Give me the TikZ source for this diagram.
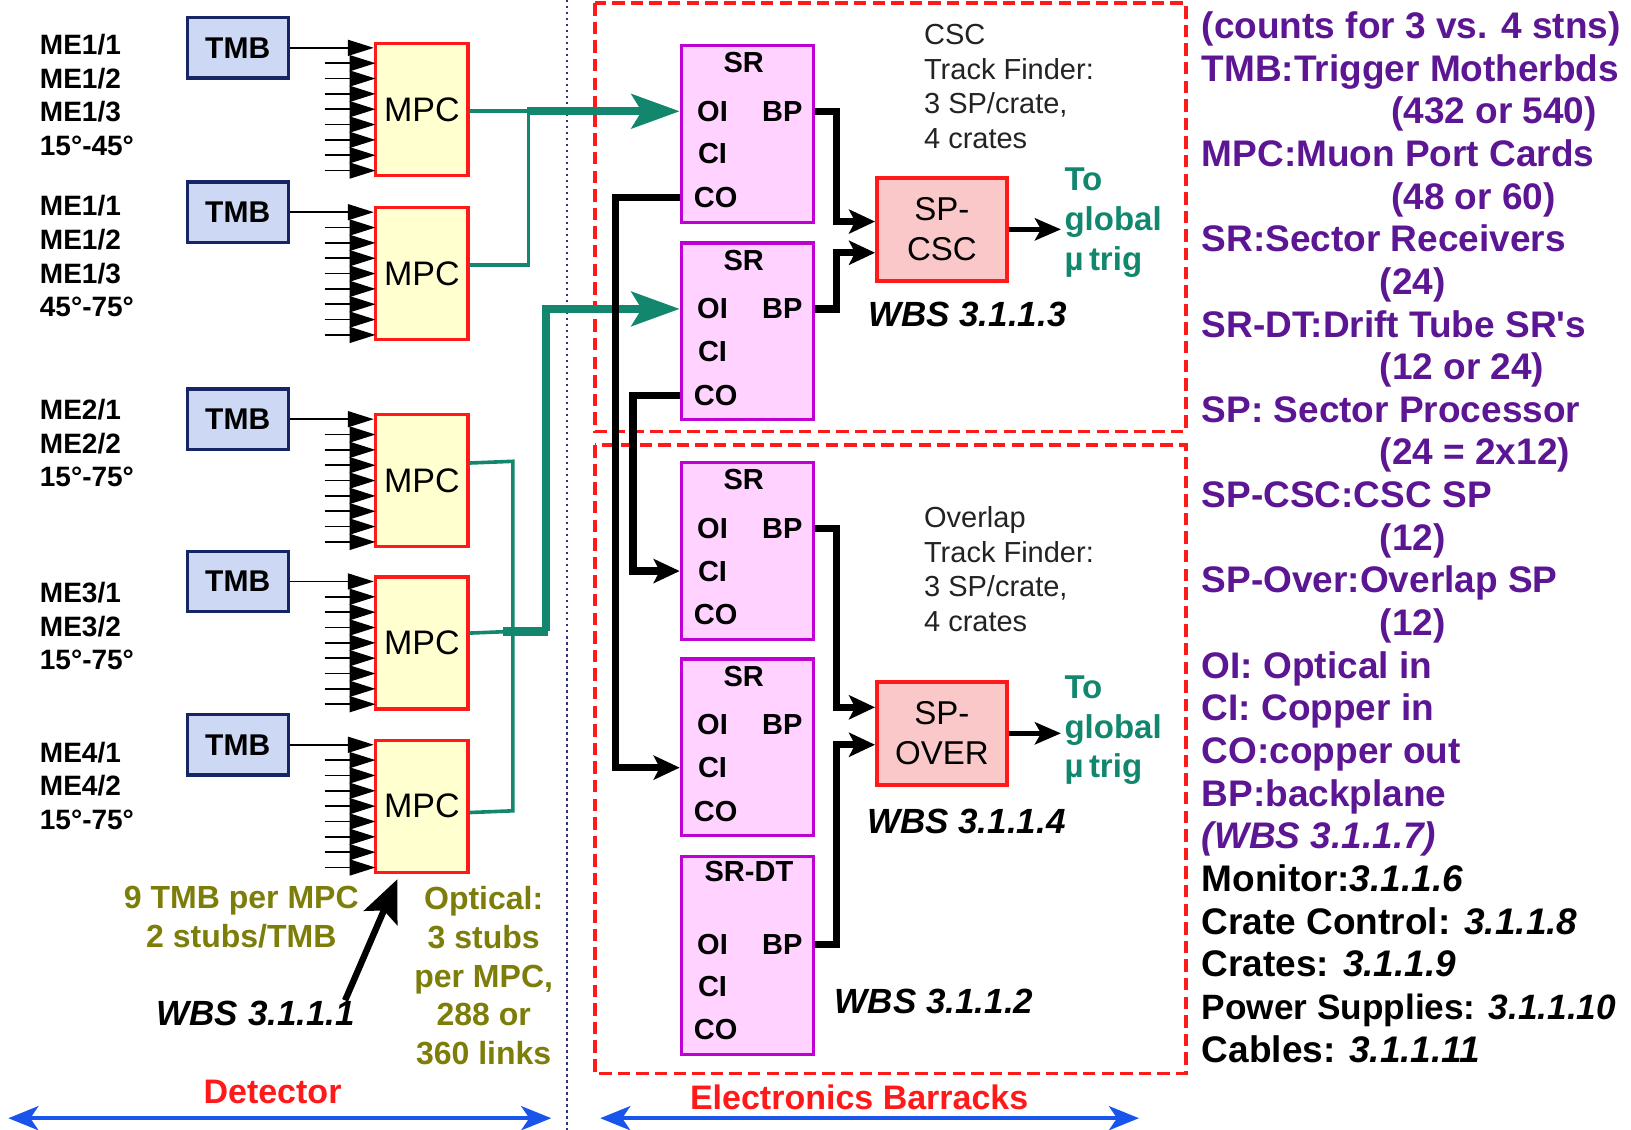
\documentclass[tikz,border=0pt]{standalone}
\usepackage{fontspec}
\setmainfont{Liberation Sans}
\usetikzlibrary{arrows.meta}
\newdimen\pxu \pxu=0.52pt
\definecolor{tmbfill}{RGB}{205,216,245}
\definecolor{tmbdraw}{RGB}{22,38,100}
\definecolor{mpcfill}{RGB}{255,255,208}
\definecolor{boxred}{RGB}{255,25,25}
\definecolor{srfill}{RGB}{255,210,255}
\definecolor{srdraw}{RGB}{190,0,210}
\definecolor{spfill}{RGB}{250,200,200}
\definecolor{tealg}{RGB}{18,135,110}
\definecolor{oliveg}{RGB}{125,125,10}
\definecolor{legpurple}{RGB}{92,22,148}
\definecolor{arrblue}{RGB}{25,85,235}
\definecolor{dotnavy}{RGB}{50,50,130}
\definecolor{txtdark}{RGB}{35,35,35}
\begin{document}
\begin{tikzpicture}[x=0.52pt,y=-0.52pt,
  tmb/.style={draw=tmbdraw, fill=tmbfill, line width=1.6pt, minimum width=97\pxu, minimum height=58\pxu, inner sep=0pt, font=\fontsize{15}{15}\selectfont\bfseries},
  mpc/.style={draw=boxred, fill=mpcfill, line width=1.7pt, minimum width=89\pxu, minimum height=127\pxu, inner sep=0pt, font=\fontsize{17}{17}\selectfont},
  srbox/.style={draw=srdraw, fill=srfill, line width=1.6pt, minimum width=127\pxu, inner sep=0pt},
  port/.style={inner sep=0pt, font=\fontsize{14.5}{14.5}\selectfont\bfseries},
  spbox/.style={draw=boxred, fill=spfill, line width=1.8pt, minimum width=125\pxu, minimum height=99\pxu, inner sep=0pt, align=center, font=\fontsize{16.5}{19.8}\selectfont},
  melbl/.style={anchor=west, inner sep=0pt, align=left, font=\fontsize{14}{16.8}\selectfont\bfseries},
  finder/.style={anchor=west, inner sep=0pt, align=left, text=txtdark, font=\fontsize{14.5}{17.3}\selectfont},
  toglob/.style={anchor=west, inner sep=0pt, align=left, text=tealg, font=\fontsize{16.5}{19.8}\selectfont\bfseries},
  wbs/.style={inner sep=0pt, font=\fontsize{17.5}{17.5}\selectfont\bfseries\itshape},
  olivetxt/.style={inner sep=0pt, align=center, text=oliveg, font=\fontsize{16}{19.4}\selectfont\bfseries},
  region/.style={inner sep=0pt, text=boxred, font=\fontsize{17}{17}\selectfont\bfseries},
  leg/.style={anchor=base west, inner sep=0pt, text=legpurple, font=\fontsize{18.5}{18.5}\selectfont\bfseries},
  legk/.style={anchor=base west, inner sep=0pt, text=black, font=\fontsize{18.5}{18.5}\selectfont\bfseries},
  tarr/.style={line width=0.8pt, -{Triangle[length=13pt,width=8pt]}},
  blk/.style={line width=3.6pt, -{Stealth[length=13pt,width=12pt,inset=3pt]}},
  blkout/.style={line width=2.5pt, -{Stealth[length=13pt,width=11pt,inset=3pt]}},
  gthin/.style={draw=tealg, line width=1.8pt},
  gthick/.style={draw=tealg, line width=4.2pt},
  garr/.style={draw=tealg, line width=4.2pt, -{Stealth[length=24pt,width=17pt,inset=5pt]}},
  bigarr/.style={line width=3.2pt, -{Stealth[length=21pt,width=18pt,inset=4pt]}},
  bluearr/.style={draw=arrblue, line width=2.1pt, {Stealth[length=15pt,width=12pt,inset=4pt]}-{Stealth[length=15pt,width=12pt,inset=4pt]}},
  dashbox/.style={draw=boxred, line width=1.8pt, dash pattern=on 6.2pt off 3.1pt},
  dotline/.style={draw=dotnavy, line width=1.2pt, dash pattern=on 1.2pt off 1.8pt}
]
\fill[white] (0,0) rectangle (1568,1086);
\useasboundingbox (0,0) rectangle (1568,1086);

% regions
\draw[dashbox] (572,3) rectangle (1140,415);
\draw[dashbox] (572,428) rectangle (1140,1032);
\draw[dotline] (545,0) -- (545,1086);

% left labels
\node[melbl] (lab1) at (38,91.5) {ME1/1\\ME1/2\\ME1/3\\15°-45°};
\node[melbl] (lab2) at (38,246.5) {ME1/1\\ME1/2\\ME1/3\\45°-75°};
\node[melbl] (lab3) at (38,426) {ME2/1\\ME2/2\\15°-75°};
\node[melbl] (lab4) at (38,602) {ME3/1\\ME3/2\\15°-75°};
\node[melbl] (lab5) at (38,755.5) {ME4/1\\ME4/2\\15°-75°};

% TMB and MPC
\foreach \m/\tp in {1/40,2/198,3/397,4/553,5/710}{
  \node[tmb] (tmb\m) at (228.5,{\tp+6}) {TMB};
  \node[mpc, anchor=north] (mpc\m) at (405.5,\tp) {MPC};
  \draw[tarr] (tmb\m.east) -- (mpc\m.west |- tmb\m.east);
  \foreach \k in {1,...,8}{
    \draw[tarr] (312,{\tp+6+\k*14.75}) -- ++(49,0);
  }
}

% SR boxes
\foreach \n/\t in {1/42,2/232,3/443,4/632}{
  \node[srbox, minimum height=170\pxu, anchor=north] (sr\n) at (718.5,\t) {};
  \node[port] (sr\n-t) at (715,{\t+18}) {SR};
  \node[port] (sr\n-oi) at (685,{\t+65}) {OI};
  \node[port] (sr\n-bp) at (752,{\t+65}) {BP};
  \node[port] (sr\n-ci) at (685,{\t+106}) {CI};
  \node[port] (sr\n-co) at (688,{\t+148}) {CO};
}
\node[srbox, minimum height=190\pxu, anchor=north] (srdt) at (718.5,822) {};
\node[port] (srdt-t) at (720,838) {SR-DT};
\node[port] (srdt-oi) at (685,908) {OI};
\node[port] (srdt-bp) at (752,908) {BP};
\node[port] (srdt-ci) at (685,948) {CI};
\node[port] (srdt-co) at (688,990) {CO};

% SP boxes
\node[spbox] (spcsc) at (905.5,220.5) {SP-\\CSC};
\node[spbox] (spover) at (905.5,705) {SP-\\OVER};

% texts
\node[finder] (csctf) at (888,83) {CSC\\Track Finder:\\3 SP/crate,\\4 crates};
\node[finder] (ovltf) at (888,547) {Overlap\\Track Finder:\\3 SP/crate,\\4 crates};
\node[toglob] (toglob1) at (1023,214) {To\\global\\µ\,trig};
\node[toglob] (toglob2) at (1023,702) {To\\global\\µ\,trig};
\node[wbs] (wbs3) at (930,302) {WBS 3.1.1.3};
\node[wbs] (wbs4) at (929,790) {WBS 3.1.1.4};
\node[wbs] (wbs2) at (898,963) {WBS 3.1.1.2};
\node[wbs] (wbs1) at (246,974) {WBS 3.1.1.1};
\node[olivetxt] (tmbper) at (232,881.5) {9 TMB per MPC\\2 stubs/TMB};
\node[olivetxt] (optical) at (465,938) {Optical:\\3 stubs\\per MPC,\\288 or\\360 links};
\node[region] (det) at (262,1050) {Detector};
\node[region] (eb) at (826,1055) {Electronics Barracks};

% blue extent arrows
\coordinate (detl) at (8,1075);
\coordinate (detr) at (530,1075);
\coordinate (ebl) at (577,1075);
\coordinate (ebr) at (1095,1075);
\draw[bluearr] (detl) -- (detr);
\draw[bluearr] (ebl) -- (ebr);

% green optical links
\coordinate (j1) at (508,107);
\draw[gthin] (mpc1.east |- j1) -- (j1);
\draw[gthin] ([yshift=8.5\pxu]mpc2.east) -| (j1);
\draw[garr] ([xshift=-1\pxu]j1) -- (sr1.west |- sr1-oi);
\coordinate (j3top) at (493,443.5);
\coordinate (j3bot) at (493,779.5);
\coordinate (j2) at (493,607);
\draw[gthin] ([yshift=17\pxu]mpc3.east) -- (j3top) -- (j3bot) -- ([yshift=-6\pxu]mpc5.east);
\draw[gthin] ([yshift=9.5\pxu]mpc4.east) -- (j2);
\draw[gthick] ([xshift=-9\pxu]j2) -- ++(43,0);
\draw[garr] ([xshift=32\pxu]j2) |- (sr2.west |- sr2-oi);

% black copper / backplane links
\draw[blk] (sr1.east |- sr1-bp) -- ++(21,0) |- ([yshift=7.5\pxu]spcsc.west);
\draw[blk] (sr2.east |- sr2-bp) -- ++(21,0) |- ([yshift=-22.5\pxu]spcsc.west);
\draw[blk] (sr3.east |- sr3-bp) -- ++(21,0) |- ([yshift=25\pxu]spover.west);
\draw[blk] (srdt.east |- srdt-bp) -- ++(21,0) |- ([yshift=-11\pxu]spover.west);
\draw[blk] (sr1.west |- sr1-co) -- ++(-62,0) |- (sr4.west |- sr4-ci);
\draw[blk] (sr2.west |- sr2-co) -- ++(-45,0) |- (sr3.west |- sr3-ci);
\draw[blkout] (spcsc.east) -- ([xshift=-3\pxu]toglob1.west |- spcsc.east);
\draw[blkout] (spover.east) -- ([xshift=-3\pxu]toglob2.west |- spover.east);
\draw[bigarr] ([xshift=-10\pxu]wbs1.north east) -- ([xshift=-23.5\pxu,yshift=-5\pxu]mpc5.south);

% legend
\node[leg] (l1) at (1155,37) {(counts for 3 vs. 4 stns)};
\node[leg] (l2) at (1155,78) {TMB:Trigger Motherbds};
\node[leg] (l3) at (1337,119) {(432 or 540)};
\node[leg] (l4) at (1155,160) {MPC:Muon Port Cards};
\node[leg] (l5) at (1337,201) {(48 or 60)};
\node[leg] (l6) at (1155,242) {SR:Sector Receivers};
\node[leg] (l7) at (1326,283) {(24)};
\node[leg] (l8) at (1155,324) {SR-DT:Drift Tube SR\textquotesingle s};
\node[leg] (l9) at (1326,365) {(12 or 24)};
\node[leg] (l10) at (1155,406) {SP: Sector Processor};
\node[leg] (l11) at (1326,447) {(24 = 2x12)};
\node[leg] (l12) at (1155,488) {SP-CSC:CSC SP};
\node[leg] (l13) at (1326,529) {(12)};
\node[leg] (l14) at (1155,570) {SP-Over:Overlap SP};
\node[leg] (l15) at (1326,611) {(12)};
\node[leg] (l16) at (1155,652) {OI: Optical in};
\node[leg] (l17) at (1155,693) {CI: Copper in};
\node[leg] (l18) at (1155,734) {CO:copper out};
\node[leg] (l19) at (1155,775) {BP:backplane};
\node[leg] (l20) at (1155,816) {\itshape (WBS 3.1.1.7)};
\node[legk] (l21) at (1155,857) {Monitor:\textit{3.1.1.6}};
\node[legk] (l22) at (1155,898) {Crate Control: \textit{3.1.1.8}};
\node[legk] (l23) at (1155,939) {Crates: \textit{3.1.1.9}};
\node[legk, font=\fontsize{17.6}{17.6}\selectfont\bfseries] (l24) at (1155,980) {Power Supplies: \textit{3.1.1.10}};
\node[legk] (l25) at (1155,1021) {Cables: \textit{3.1.1.11}};
\end{tikzpicture}
\end{document}
